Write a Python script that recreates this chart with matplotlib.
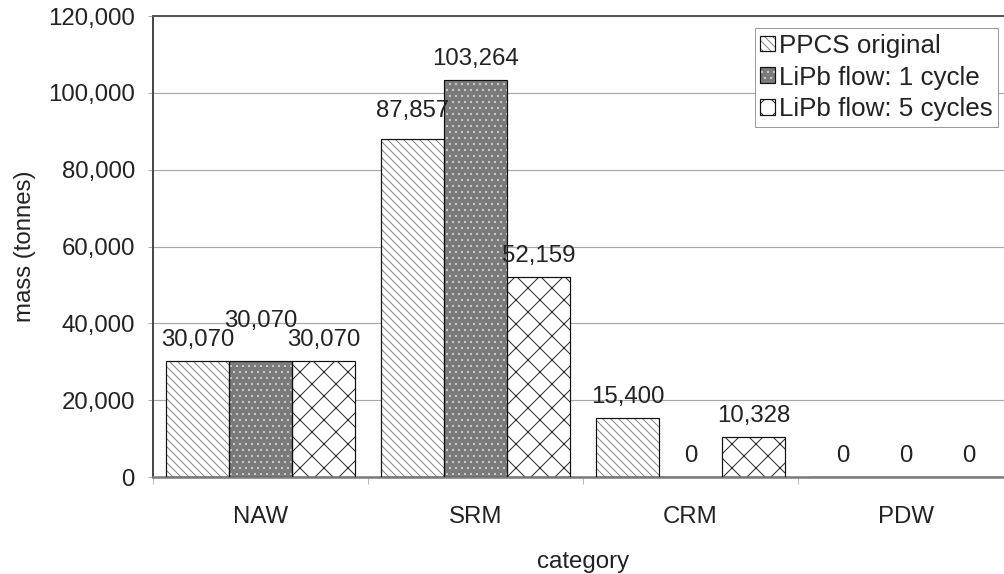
import matplotlib.pyplot as plt
import numpy as np
from matplotlib.legend_handler import HandlerTuple
from matplotlib.ticker import FuncFormatter, FixedLocator

plt.rcParams['font.family'] = ['Liberation Sans', 'DejaVu Sans']
plt.rcParams['hatch.linewidth'] = 1.0

#####################################################################
# data
categories = ["NAW", "SRM", "CRM", "PDW"]
series_names = ["PPCS original", "LiPb flow: 1 cycle", "LiPb flow: 5 cycles"]
ppcs_original = [30070, 87857, 15400, 0]
lipb_1cycle = [30070, 103264, 0, 0]
lipb_5cycles = [30070, 52159, 10328, 0]

# extra lift (px) for labels that would otherwise collide
label_lift = [[0, 7, 0, 0],
              [19, 0, 0, 0],
              [0, 0, 0, 0]]

#####################################################################
W, H = 1004, 574
fig = plt.figure(figsize=(W / 72, H / 72), dpi=72)
ax = fig.add_axes([153 / W, (H - 477) / H, 860 / W, 461 / H])

x = np.arange(len(categories))
width = 0.293
styles = [dict(face="white", hatch="\\\\\\", hcolor="#858585"),
          dict(face="#7b7b7b", hatch="..", hcolor="#cfcfcf"),
          dict(face="white", hatch="x", hcolor="#2a2a2a")]
txt = "#222222"

handles = []
for i, (vals, st) in enumerate(zip([ppcs_original, lipb_1cycle, lipb_5cycles], styles)):
    pos = x + (i - 1) * width
    fill = ax.bar(pos, vals, width, color=st["face"], hatch=st["hatch"],
                  edgecolor=st["hcolor"], linewidth=0, zorder=2)
    outline = ax.bar(pos, vals, width, fill=False, edgecolor="#111111",
                     linewidth=1.2, zorder=3)
    handles.append((fill[0], outline[0]))
    for p, v, lift in zip(pos, vals, label_lift[i]):
        ax.annotate(f"{v:,}", (p, v), xytext=(0, 10 + lift),
                    textcoords="offset points", ha="center", va="bottom",
                    fontsize=24, color=txt, zorder=4)

ax.set_xlim(-0.5, len(categories) - 0.5)
ax.set_ylim(0, 120000)
ax.set_yticks(np.arange(0, 120001, 20000))
ax.yaxis.set_major_formatter(FuncFormatter(lambda v, _: f"{int(v):,}"))
ax.set_xticks(x)
ax.set_xticklabels(categories)
ax.xaxis.set_minor_locator(FixedLocator(np.arange(-0.5, len(categories), 1.0)))

ax.tick_params(axis="y", length=5, width=1, color="#aaaaaa", pad=13,
               labelsize=24, labelcolor=txt)
ax.tick_params(axis="x", which="major", length=0, pad=29,
               labelsize=24, labelcolor=txt)
ax.tick_params(axis="x", which="minor", length=7, width=1, color="#bbbbbb")

ax.grid(axis="y", color="#a8a8a8", linewidth=1.2, zorder=0)
ax.set_axisbelow(True)
ax.spines["right"].set_visible(False)
ax.spines["left"].set_color("#4a4a4a")
ax.spines["left"].set_linewidth(2)
ax.spines["top"].set_color("#555555")
ax.spines["top"].set_linewidth(2)
ax.spines["bottom"].set_color("#7a7a7a")
ax.spines["bottom"].set_linewidth(2.5)

ax.set_xlabel("category", fontsize=24, color=txt, labelpad=23)
ax.set_ylabel("mass (tonnes)", fontsize=24, color=txt, labelpad=12)

leg = ax.legend(handles, series_names,
                handler_map={tuple: HandlerTuple(ndivide=1, pad=0)},
                loc="upper right", bbox_to_anchor=(998 / W, 1 - 28 / H),
                bbox_transform=fig.transFigure, fontsize=26, frameon=True,
                fancybox=False, framealpha=1, edgecolor="#9a9a9a",
                handlelength=0.55, handleheight=0.55, handletextpad=0.15,
                borderpad=0.22, labelspacing=0.3, borderaxespad=0)
leg.get_frame().set_linewidth(1)
for t in leg.get_texts():
    t.set_color(txt)

plt.savefig("out.png", dpi=72)
